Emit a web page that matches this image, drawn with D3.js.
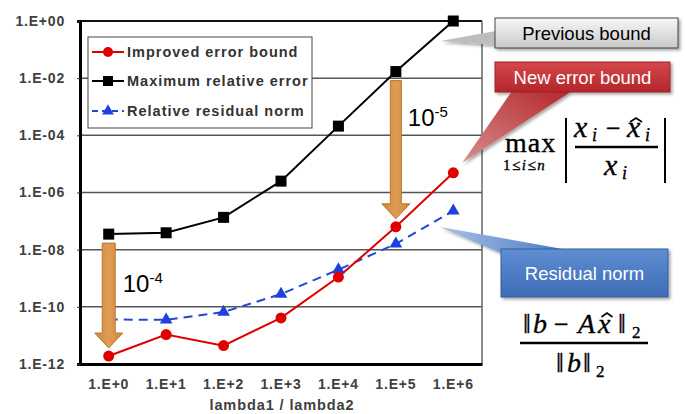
<!DOCTYPE html>
<html>
<head>
<meta charset="utf-8">
<script src="https://cdn.jsdelivr.net/npm/d3@7"></script>
<style>
  html, body { margin: 0; padding: 0; background: #fff; }
  svg { display: block; }
</style>
</head>
<body>
<svg id="chart" width="685" height="414"></svg>
<script>
// Ratio of eigenvalues (x axis categories)
const categories = ["1.E+0", "1.E+1", "1.E+2", "1.E+3", "1.E+4", "1.E+5", "1.E+6"];

// Series values
const improvedBound = [1.9e-12, 1.07e-11, 4.4e-12, 4.1e-11, 1.1e-9, 6.3e-8, 4.9e-6];
const maxRelError   = [3.5e-8, 3.9e-8, 1.35e-7, 2.5e-6, 2.1e-4, 1.7e-2, 1.0];
const residualNorm  = [3.6e-11, 3.5e-11, 6.6e-11, 2.8e-10, 2.0e-9, 1.6e-8, 2.3e-7];

// Y axis ticks
const yTicks      = [1, 1e-2, 1e-4, 1e-6, 1e-8, 1e-10, 1e-12];
const yTickLabels = ["1.E+00", "1.E-02", "1.E-04", "1.E-06", "1.E-08", "1.E-10", "1.E-12"];

const seriesNames = ["Improved error bound", "Maximum relative error", "Relative residual norm"];

const svg = d3.select("#chart");
const plotL = 80, plotR = 482, plotT = 21, plotB = 364;

const x = d3.scaleBand().domain(categories).range([plotL, plotR]);
const cx = c => x(c) + x.bandwidth() / 2;
const y = d3.scaleLog().domain([1e-12, 1]).range([plotB, plotT]);

const defs = svg.append("defs");
function vGrad(id, c1, c2) {
  const g = defs.append("linearGradient").attr("id", id)
    .attr("x1", 0).attr("y1", 0).attr("x2", 0).attr("y2", 1);
  g.append("stop").attr("offset", "0%").attr("stop-color", c1);
  g.append("stop").attr("offset", "100%").attr("stop-color", c2);
}
vGrad("gGray", "#f7f7f7", "#c9c9c9");
vGrad("gRed", "#d4484a", "#b3262b");
vGrad("gBlue", "#5f8ed3", "#3d6bb5");
const hg = defs.append("linearGradient").attr("id", "gOrange")
  .attr("x1", 0).attr("y1", 0).attr("x2", 1).attr("y2", 0);
hg.append("stop").attr("offset", "0%").attr("stop-color", "#cf8738");
hg.append("stop").attr("offset", "50%").attr("stop-color", "#e09c55");
hg.append("stop").attr("offset", "100%").attr("stop-color", "#cf8738");
const wedgeGrad = defs.append("linearGradient").attr("id", "gWedgeBlue")
  .attr("x1", 0).attr("y1", 0).attr("x2", 1).attr("y2", 0);
wedgeGrad.append("stop").attr("offset", "0%").attr("stop-color", "#a9c0e6");
wedgeGrad.append("stop").attr("offset", "100%").attr("stop-color", "#4a78c0");
const wedgeRed = defs.append("linearGradient").attr("id", "gWedgeRed")
  .attr("x1", 0).attr("y1", 1).attr("x2", 1).attr("y2", 0);
wedgeRed.append("stop").attr("offset", "0%").attr("stop-color", "#d98c8c");
wedgeRed.append("stop").attr("offset", "100%").attr("stop-color", "#b3262b");
const sh = defs.append("filter").attr("id", "shadow")
  .attr("x", "-10%").attr("y", "-20%").attr("width", "130%").attr("height", "160%");
sh.append("feDropShadow").attr("dx", 2).attr("dy", 2).attr("stdDeviation", 1.5)
  .attr("flood-color", "#000").attr("flood-opacity", 0.35);

// Gridlines
svg.append("g").selectAll("line").data(yTicks.slice(1)).join("line")
  .attr("x1", plotL).attr("x2", plotR)
  .attr("y1", d => y(d)).attr("y2", d => y(d))
  .attr("stroke", "#555").attr("stroke-width", 1.5);
svg.append("line").attr("x1", plotL).attr("x2", plotR)
  .attr("y1", y(1)).attr("y2", y(1)).attr("stroke", "#111").attr("stroke-width", 2);
svg.append("line").attr("x1", plotR).attr("x2", plotR)
  .attr("y1", plotT).attr("y2", plotB).attr("stroke", "#666").attr("stroke-width", 1.5);

// Y axis
const yAxis = d3.axisLeft(y).tickValues(yTicks)
  .tickFormat((d, i) => yTickLabels[i]).tickSize(3).tickPadding(12);
const gy = svg.append("g").attr("transform", `translate(${plotL},0)`).call(yAxis);
gy.select(".domain").attr("stroke", "#000").attr("stroke-width", 3);
gy.selectAll(".tick line").attr("stroke", "#333");
gy.selectAll("text").attr("font-family", "Liberation Sans, Arial, sans-serif")
  .attr("font-size", 14).attr("font-weight", "bold").attr("fill", "#404040")
  .attr("letter-spacing", 0.8);

// X axis
const xAxis = d3.axisBottom(x).tickSize(0).tickPadding(15);
const gx = svg.append("g").attr("transform", `translate(0,${plotB})`).call(xAxis);
gx.select(".domain").attr("stroke", "#000").attr("stroke-width", 3);
gx.selectAll("text").attr("font-family", "Liberation Sans, Arial, sans-serif")
  .attr("font-size", 14).attr("font-weight", "bold").attr("fill", "#404040")
  .attr("letter-spacing", 0.8);

svg.append("text").attr("x", (plotL + plotR) / 2 + 1).attr("y", 410)
  .attr("text-anchor", "middle")
  .attr("font-family", "Liberation Sans, Arial, sans-serif")
  .attr("font-size", 14.5).attr("font-weight", "bold").attr("fill", "#404040")
  .attr("letter-spacing", 0.9)
  .text("lambda1 / lambda2");

// Series lines
const line = d3.line().x((d, i) => cx(categories[i])).y(d => y(d));
svg.append("path").datum(maxRelError).attr("d", line)
  .attr("fill", "none").attr("stroke", "#000").attr("stroke-width", 2);
svg.append("path").datum(residualNorm).attr("d", line)
  .attr("fill", "none").attr("stroke", "#2147d6").attr("stroke-width", 2)
  .attr("stroke-dasharray", "9,6");
svg.append("path").datum(improvedBound).attr("d", line)
  .attr("fill", "none").attr("stroke", "#dd0000").attr("stroke-width", 2);

// Markers
svg.append("g").selectAll("rect").data(maxRelError).join("rect")
  .attr("x", (d, i) => cx(categories[i]) - 5.5).attr("y", d => y(d) - 5.5)
  .attr("width", 11).attr("height", 11).attr("fill", "#000");
svg.append("g").selectAll("path").data(residualNorm).join("path")
  .attr("d", d3.symbol(d3.symbolTriangle, 70))
  .attr("transform", (d, i) => `translate(${cx(categories[i])},${y(d)})`)
  .attr("fill", "#1f3fe0");
svg.append("g").selectAll("circle").data(improvedBound).join("circle")
  .attr("cx", (d, i) => cx(categories[i])).attr("cy", d => y(d)).attr("r", 5.5)
  .attr("fill", "#e00000");

// Down arrows from the previous bound to the new bound
function downArrow(idx, shaftW, exponent, labelDx, labelDy) {
  const xc = cx(categories[idx]);
  const y0 = y(maxRelError[idx]) + 9;
  const y1 = y(improvedBound[idx]) - 8;
  const headL = 15, headW = 28, sw = shaftW / 2;
  const p = d3.path();
  p.moveTo(xc - sw, y0); p.lineTo(xc + sw, y0); p.lineTo(xc + sw, y1 - headL);
  p.lineTo(xc + headW / 2, y1 - headL); p.lineTo(xc, y1);
  p.lineTo(xc - headW / 2, y1 - headL); p.lineTo(xc - sw, y1 - headL); p.closePath();
  svg.append("path").attr("d", p.toString())
    .attr("fill", "url(#gOrange)").attr("stroke", "#b8772e").attr("stroke-width", 1);
  const t = svg.append("text").attr("x", xc + labelDx).attr("y", y0 + labelDy)
    .attr("font-family", "Liberation Sans, Arial, sans-serif")
    .attr("font-size", 24).attr("fill", "#000");
  t.append("tspan").text("10");
  t.append("tspan").attr("dy", -9).attr("font-size", 15).text(exponent);
}
downArrow(0, 13, "-4", 14, 49);
downArrow(5, 11, "-5", 12, 45);

// Legend
const lg = svg.append("g");
lg.append("rect").attr("x", 88).attr("y", 37).attr("width", 224).attr("height", 91)
  .attr("fill", "#fff").attr("stroke", "#444").attr("stroke-width", 1);
const legendY = [52, 81, 111];
const legendColors = ["#dd0000", "#000", "#2147d6"];
seriesNames.forEach((name, i) => {
  const ly = legendY[i];
  lg.append("line").attr("x1", 92).attr("x2", 124).attr("y1", ly).attr("y2", ly)
    .attr("stroke", legendColors[i]).attr("stroke-width", 2)
    .attr("stroke-dasharray", i === 2 ? "6,4" : null);
  if (i === 0) lg.append("circle").attr("cx", 108).attr("cy", ly).attr("r", 5).attr("fill", "#e00000");
  if (i === 1) lg.append("rect").attr("x", 103).attr("y", ly - 5).attr("width", 10).attr("height", 10).attr("fill", "#000");
  if (i === 2) lg.append("path").attr("d", d3.symbol(d3.symbolTriangle, 60))
    .attr("transform", `translate(108,${ly})`).attr("fill", "#1f3fe0");
  lg.append("text").attr("x", 127).attr("y", ly + 5)
    .attr("font-family", "Liberation Sans, Arial, sans-serif")
    .attr("font-size", 14.5).attr("font-weight", "bold").attr("fill", "#333")
    .attr("letter-spacing", 1.0)
    .text(name);
});

// Callouts
function callout(box, wedge, fill, wedgeFill, stroke, label, color) {
  const g = svg.append("g").attr("filter", "url(#shadow)");
  g.append("path").attr("d", "M" + wedge.map(p => p.join(",")).join("L") + "Z")
    .attr("fill", wedgeFill).attr("stroke", "none");
  g.append("rect").attr("x", box[0]).attr("y", box[1])
    .attr("width", box[2]).attr("height", box[3])
    .attr("fill", fill).attr("stroke", stroke).attr("stroke-width", 1);
  svg.append("text").attr("x", box[0] + box[2] / 2).attr("y", box[1] + box[3] / 2 + 6.5)
    .attr("text-anchor", "middle")
    .attr("font-family", "Liberation Sans, Arial, sans-serif")
    .attr("font-size", 18.5).attr("fill", color).text(label);
}
callout([495, 18, 183, 30], [[496, 31], [cx(categories[6]) - 13, 41], [496, 45]],
  "url(#gGray)", "#bdbdbd", "#444", "Previous bound", "#000");
callout([495, 62, 175, 30], [[512, 91], [cx(categories[6]) + 9, y(improvedBound[6]) - 10], [572, 91]],
  "url(#gRed)", "url(#gWedgeRed)", "#a02024", "New error bound", "#fff");
callout([501, 249, 167, 48], [[440, 227], [568, 250], [503, 254]],
  "url(#gBlue)", "url(#gWedgeBlue)", "#355f9f", "Residual norm", "#fff");

// Formulas, typeset glyph by glyph
const serif = "'Liberation Serif', 'DejaVu Serif', serif";
function glyph(g, gx, gy, s, size, italic) {
  g.append("text").attr("x", gx).attr("y", gy).attr("font-size", size)
    .attr("font-style", italic ? "italic" : "normal").text(s);
}
function hat(g, hx, hy, w) {
  g.append("path").attr("d", `M${hx - w / 2},${hy + 4} L${hx},${hy} L${hx + w / 2},${hy + 4}`)
    .attr("fill", "none").attr("stroke", "#000").attr("stroke-width", 1.6);
}
function rule(g, x1, y1, x2, y2, w) {
  g.append("line").attr("x1", x1).attr("y1", y1).attr("x2", x2).attr("y2", y2)
    .attr("stroke", "#000").attr("stroke-width", w);
}

// max over i of the relative component error
const f1 = svg.append("g").attr("font-family", serif).attr("fill", "#000")
  .attr("stroke", "#000").attr("stroke-width", 0.35);
f1.append("text").attr("x", 505).attr("y", 152).attr("font-size", 28)
  .attr("letter-spacing", 1).text("max");
f1.append("text").attr("x", 503).attr("y", 170).attr("font-size", 15).attr("letter-spacing", 1.5)
  .html('1≤<tspan font-style="italic">i</tspan>≤<tspan font-style="italic">n</tspan>');
rule(f1, 566, 118, 566, 183, 2);
rule(f1, 665, 118, 665, 183, 2);
rule(f1, 575, 147, 658, 147, 2.5);
glyph(f1, 574, 137, "x", 30, true);
glyph(f1, 592, 141, "i", 18, true);
glyph(f1, 606, 137, "−", 26, false);
glyph(f1, 627, 137, "x", 30, true);
glyph(f1, 645, 141, "i", 18, true);
hat(f1, 636, 118, 12);
glyph(f1, 604, 175, "x", 30, true);
glyph(f1, 622, 179, "i", 18, true);

// relative residual norm
const f2 = svg.append("g").attr("font-family", serif).attr("fill", "#000")
  .attr("stroke", "#000").attr("stroke-width", 0.35);
glyph(f2, 523, 333, "‖", 28, false);
glyph(f2, 533, 333, "b", 28, true);
glyph(f2, 554, 333, "−", 26, false);
glyph(f2, 578, 333, "A", 28, true);
glyph(f2, 598, 333, "x", 28, true);
hat(f2, 607, 313, 11);
glyph(f2, 618, 333, "‖", 28, false);
glyph(f2, 632, 338, "2", 17, false);
rule(f2, 520, 343, 648, 343, 2.5);
glyph(f2, 556, 372, "‖", 28, false);
glyph(f2, 567, 372, "b", 28, true);
glyph(f2, 583, 372, "‖", 28, false);
glyph(f2, 596, 377, "2", 17, false);
</script>
</body>
</html>
